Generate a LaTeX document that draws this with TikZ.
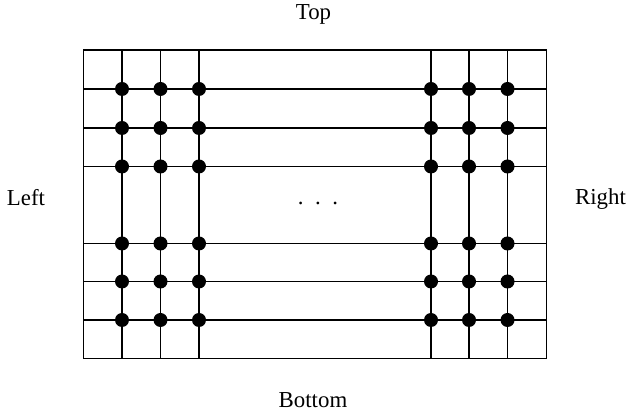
\documentclass[tikz,border=0pt]{standalone}
\usepackage{fontspec}
\setmainfont{Liberation Serif}
\usepackage{tikz}

\tikzset{side label/.style={anchor=base,inner sep=0pt,font=\fontsize{13}{15}\selectfont}}

\begin{document}
\begin{tikzpicture}[x=0.02cm,y=-0.02cm,line width=0.8pt]
        \useasboundingbox (0,0) rectangle (629,411);
        % outer frame
        \draw (83.5,50) rectangle (546.5,358.5);
        % row lines
        \foreach \y in {89,128,166.5,243.5,281.5,320}
          \draw (83.5,\y) -- (546.5,\y);
        % column lines
        \foreach \x in {122,160.5,199,431,469,507.5}
          \draw (\x,50) -- (\x,358.5);
        % dots at the crossings
        \foreach \x in {122,160.5,199,431,469,507.5}
          \foreach \y in {89,128,166.5,243.5,281.5,320}
            \fill (\x,\y) circle (7);
        % side labels
        \node[side label] (top) at (313.5,20) {Top};
        \node[side label] (bottom) at (313,408) {Bottom};
        \node[side label] (left) at (26,206) {Left};
        \node[side label] (right) at (600.5,205) {Right};
        \node[side label] (dots) at (318,205) {.\hspace{6.6pt}.\hspace{6.6pt}.};
      \end{tikzpicture}
\end{document}
